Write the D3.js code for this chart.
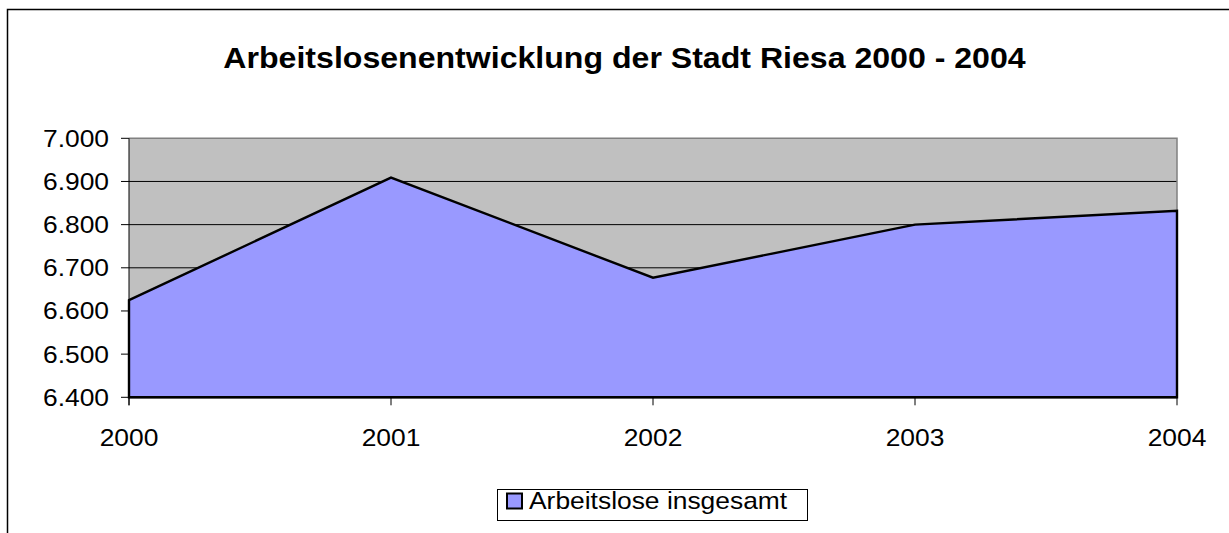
<!DOCTYPE html>
<html>
<head>
<meta charset="utf-8">
<script src="https://cdn.jsdelivr.net/npm/d3@7"></script>
<style>
  html, body { margin: 0; padding: 0; background: #fff; }
  svg { display: block; }
  text { font-family: Arial, "Liberation Sans", sans-serif; fill: #000; }
</style>
</head>
<body>
<svg id="chart" width="1229" height="533"></svg>
<script>
// Unemployment in the town of Riesa, 2000–2004
const years = ["2000", "2001", "2002", "2003", "2004"];
const unemployed = [6625, 6909, 6677, 6800, 6832];
const yTicks = [6400, 6500, 6600, 6700, 6800, 6900, 7000];
const seriesName = "Arbeitslose insgesamt";
const titleText = "Arbeitslosenentwicklung der Stadt Riesa 2000 - 2004";

const svg = d3.select("#chart");
const stretch = 1.1;       // horizontal widening of the lettering
const titleStretch = 1.07;

const plot = { left: 129, right: 1177, top: 138.3, bottom: 397.3 };

const x = d3.scalePoint().domain(years).range([plot.left, plot.right]);
const y = d3.scaleLinear().domain([6400, 7000]).range([plot.bottom, plot.top]);

const fmt = v => d3.format(".3f")(v / 1000);

// chart frame (runs past the right and bottom edges)
svg.append("rect")
  .attr("x", 7.5).attr("y", 9.5)
  .attr("width", 1300).attr("height", 600)
  .attr("fill", "#fff").attr("stroke", "#000").attr("stroke-width", 1.5);

// title
svg.append("text")
  .attr("transform", `translate(624.5,67.5) scale(${titleStretch},1)`)
  .attr("text-anchor", "middle")
  .attr("font-weight", "bold")
  .attr("font-size", 30)
  .text(titleText);

// plot background
svg.append("rect")
  .attr("x", plot.left).attr("y", plot.top)
  .attr("width", plot.right - plot.left).attr("height", plot.bottom - plot.top)
  .attr("fill", "#c0c0c0");

// horizontal gridlines
svg.append("g").selectAll("line")
  .data(yTicks.filter(t => t > 6400 && t < 7000))
  .join("line")
  .attr("x1", plot.left).attr("x2", plot.right)
  .attr("y1", d => y(d)).attr("y2", d => y(d))
  .attr("stroke", "#000").attr("stroke-width", 1);

// plot border (top and right)
svg.append("path")
  .attr("d", `M${plot.left},${plot.top}H${plot.right}V${plot.bottom}`)
  .attr("fill", "none").attr("stroke", "#808080").attr("stroke-width", 1.5);

// area series
const area = d3.area()
  .x((d, i) => x(years[i]))
  .y0(y(6400))
  .y1(d => y(d));

svg.append("path")
  .datum(unemployed)
  .attr("d", area)
  .attr("fill", "#9999ff")
  .attr("stroke", "#000")
  .attr("stroke-width", 2.4)
  .attr("stroke-linejoin", "miter");

// y axis
const yAxis = svg.append("g");
yAxis.append("line")
  .attr("x1", plot.left).attr("x2", plot.left)
  .attr("y1", plot.top).attr("y2", plot.bottom + 8)
  .attr("stroke", "#000");
yAxis.selectAll("line.tick")
  .data(yTicks).join("line").attr("class", "tick")
  .attr("x1", plot.left - 8).attr("x2", plot.left)
  .attr("y1", d => y(d)).attr("y2", d => y(d))
  .attr("stroke", "#000");
yAxis.selectAll("text")
  .data(yTicks).join("text")
  .attr("transform", d => `translate(109,${y(d) + 8.5}) scale(${stretch},1)`)
  .attr("text-anchor", "end")
  .attr("font-size", 24)
  .text(fmt);

// x axis
const xAxis = svg.append("g");
xAxis.append("line")
  .attr("x1", plot.left).attr("x2", plot.right)
  .attr("y1", plot.bottom).attr("y2", plot.bottom)
  .attr("stroke", "#000").attr("stroke-width", 2);
xAxis.selectAll("line.tick")
  .data(years).join("line").attr("class", "tick")
  .attr("x1", d => x(d)).attr("x2", d => x(d))
  .attr("y1", plot.bottom).attr("y2", plot.bottom + 8)
  .attr("stroke", "#000");
xAxis.selectAll("text")
  .data(years).join("text")
  .attr("transform", d => `translate(${x(d)},445.5) scale(${stretch},1)`)
  .attr("text-anchor", "middle")
  .attr("font-size", 24)
  .text(d => d);

// legend
const legend = svg.append("g");
legend.append("rect")
  .attr("x", 497.5).attr("y", 489.5).attr("width", 310).attr("height", 31)
  .attr("fill", "#fff").attr("stroke", "#000").attr("stroke-width", 1);
legend.append("rect")
  .attr("x", 507).attr("y", 493.5).attr("width", 15).attr("height", 15)
  .attr("fill", "#9999ff").attr("stroke", "#000").attr("stroke-width", 2);
legend.append("text")
  .attr("transform", `translate(529,508.5) scale(${stretch},1)`)
  .attr("font-size", 24)
  .text(seriesName);
</script>
</body>
</html>
